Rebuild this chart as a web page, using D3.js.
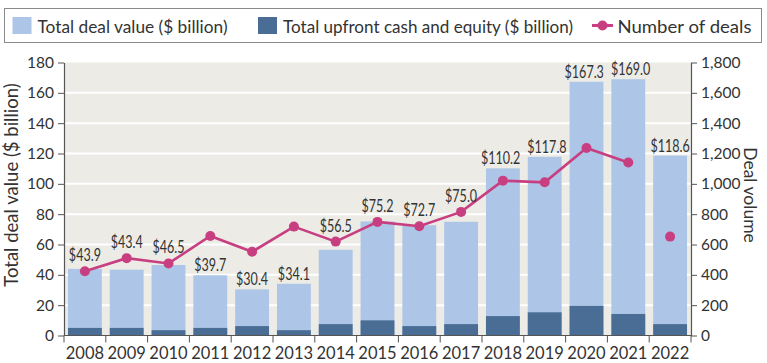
<!DOCTYPE html>
<html><head><meta charset="utf-8">
<script src="https://cdn.jsdelivr.net/npm/d3@7"></script>
<style>
body{margin:0;background:#fff;}
svg{display:block;font-family:Lato,"Open Sans",sans-serif;}
</style></head>
<body><svg id="chart" width="767" height="363"></svg>
<script>
const years = ["2008","2009","2010","2011","2012","2013","2014","2015","2016","2017","2018","2019","2020","2021","2022"];
const totalDealValue = [43.9,43.4,46.5,39.7,30.4,34.1,56.5,75.2,72.7,75.0,110.2,117.8,167.3,169.0,118.6];
const upfrontValue = [5.0,5.0,3.5,5.0,6.2,3.5,7.5,10.0,6.2,7.5,12.8,15.3,19.5,14.2,7.5];
const dealCount = [424,510,475,656,552,718,619,749,720,815,1021,1010,1236,1141,652];
const lineConnected = [true,true,true,true,true,true,true,true,true,true,true,true,true,true,false];
const leftTicks = [0,20,40,60,80,100,120,140,160,180];
const rightTicks = [0,200,400,600,800,1000,1200,1400,1600,1800];
const legendLabels = ["Total deal value ($ billion)","Total upfront cash and equity ($ billion)","Number of deals"];

const C = {bg:"#ecebe6", light:"#adc6e7", dark:"#4a6d95", line:"#c83f81", text:"#333", axis:"#555"};
const svg = d3.select("#chart");
const L = 64, R = 691, T = 62.5, B = 335.5;

function condense(sel, ratio){
  sel.each(function(){
    const len = this.getComputedTextLength();
    d3.select(this).attr("textLength", len*ratio).attr("lengthAdjust","spacingAndGlyphs");
  });
}

const x = d3.scaleBand().domain(years).range([L,R]).paddingInner(0.19).paddingOuter(0.095);
const y = d3.scaleLinear().domain([0,180]).range([B,T]);
const y2 = d3.scaleLinear().domain([0,1800]).range([B,T]);

// background
svg.append("rect").attr("x",L).attr("y",T).attr("width",R-L).attr("height",B-T).attr("fill",C.bg);
// gridlines
svg.append("g").selectAll("line").data(leftTicks.filter(t=>t>0&&t<180)).join("line")
  .attr("x1",L).attr("x2",R).attr("y1",d=>y(d)).attr("y2",d=>y(d))
  .attr("stroke","#fff").attr("stroke-width",2);

// bars
const data = years.map((yr,i)=>({yr,total:totalDealValue[i],up:upfrontValue[i],n:dealCount[i],c:lineConnected[i]}));
svg.append("g").selectAll("rect").data(data).join("rect")
  .attr("x",d=>x(d.yr)).attr("width",x.bandwidth())
  .attr("y",d=>y(d.total)).attr("height",d=>B-y(d.total)).attr("fill",C.light);
svg.append("g").selectAll("rect").data(data).join("rect")
  .attr("x",d=>x(d.yr)).attr("width",x.bandwidth())
  .attr("y",d=>y(d.up)).attr("height",d=>B-y(d.up)).attr("fill",C.dark);

// line
const line = d3.line().defined(d=>d.c).x(d=>x(d.yr)+x.bandwidth()/2).y(d=>y2(d.n));
svg.append("path").datum(data).attr("d",line).attr("fill","none").attr("stroke",C.line).attr("stroke-width",2.6);
svg.append("g").selectAll("circle").data(data).join("circle")
  .attr("cx",d=>x(d.yr)+x.bandwidth()/2).attr("cy",d=>y2(d.n)).attr("r",5).attr("fill",C.line);

// value labels
const labels = svg.append("g").selectAll("text").data(data).join("text")
  .attr("x",d=>x(d.yr)+x.bandwidth()/2)
  .attr("y",d=>{const bt=y(d.total), pt=y2(d.n); return pt>bt-15 ? Math.min(bt-4, pt-10) : bt-4;})
  .attr("text-anchor","middle").attr("font-size",16.5).attr("fill",C.text)
  .text(d=>"$"+d.total.toFixed(1))
  .call(condense, 0.76);
// nudge apart neighbouring labels that collide
const nodes = labels.nodes();
for(let i=0;i<nodes.length-1;i++){
  const a=nodes[i], b=nodes[i+1];
  const ya=+a.getAttribute("y"), yb=+b.getAttribute("y");
  if(Math.abs(ya-yb) > 14) continue;
  const wa=+a.getAttribute("textLength"), wb=+b.getAttribute("textLength");
  const xa=+a.getAttribute("x"), xb=+b.getAttribute("x");
  const overlap = (xa+wa/2+7) - (xb-wb/2);
  if(overlap>0){ a.setAttribute("x", xa-overlap/2); b.setAttribute("x", xb+overlap/2); }
}

// axes
const axL = svg.append("g").attr("transform",`translate(${L},0)`)
  .call(d3.axisLeft(y).tickValues(leftTicks).tickSize(6).tickSizeOuter(0).tickPadding(4));
const axR = svg.append("g").attr("transform",`translate(${R},0)`)
  .call(d3.axisRight(y2).tickValues(rightTicks).tickSize(6).tickSizeOuter(0).tickPadding(4).tickFormat(d3.format(",")));
[axL,axR].forEach(a=>{
  a.select(".domain").attr("stroke",C.axis).attr("stroke-width",1.2);
  a.selectAll(".tick line").attr("stroke",C.axis);
  a.selectAll(".tick text").attr("font-size",15.5).attr("fill",C.text).attr("font-family","Lato");
});
// bottom axis
const step = x.step(), gap = step - x.bandwidth();
svg.append("line").attr("x1",L).attr("x2",R).attr("y1",B).attr("y2",B).attr("stroke",C.axis).attr("stroke-width",1.2);
const bounds = years.map(yr=>x(yr)-gap/2).concat([x(years[years.length-1])+x.bandwidth()+gap/2]);
svg.append("g").selectAll("line").data(bounds).join("line")
  .attr("x1",d=>d).attr("x2",d=>d).attr("y1",B).attr("y2",B+7).attr("stroke",C.axis);
svg.append("g").selectAll("text").data(years).join("text")
  .attr("x",d=>x(d)+x.bandwidth()/2).attr("y",358.5).attr("text-anchor","middle")
  .attr("font-size",16.5).attr("fill",C.text).text(d=>d);

// axis titles
svg.append("text").attr("transform","translate(18,185) rotate(-90)").attr("text-anchor","middle")
  .attr("font-size",18.5).attr("fill",C.text).text("Total deal value ($ billion)");
svg.append("text").attr("transform","translate(744,195) rotate(90)").attr("text-anchor","middle")
  .attr("font-size",17.5).attr("fill",C.text).text("Deal volume");

// legend
const lg = svg.append("g");
lg.append("rect").attr("x",4.5).attr("y",8.5).attr("width",757).attr("height",34)
  .attr("fill","#fff").attr("stroke","#8a8a8a").attr("stroke-width",1);
lg.append("rect").attr("x",12.5).attr("y",17).attr("width",19).attr("height",17).attr("fill",C.light);
lg.append("rect").attr("x",258).attr("y",17).attr("width",19).attr("height",17).attr("fill",C.dark);
lg.append("line").attr("x1",592).attr("x2",613).attr("y1",25.5).attr("y2",25.5).attr("stroke",C.line).attr("stroke-width",3);
lg.append("circle").attr("cx",602.5).attr("cy",25.5).attr("r",5).attr("fill",C.line);
const legX = [37.5,283,617.5], legW = [190,290,134];
legendLabels.forEach((t,i)=>{
  lg.append("text").attr("x",legX[i]).attr("y",32.5).attr("font-size",18).attr("fill",C.text)
    .attr("textLength",legW[i]).attr("lengthAdjust","spacingAndGlyphs").text(t);
});
</script></body></html>
